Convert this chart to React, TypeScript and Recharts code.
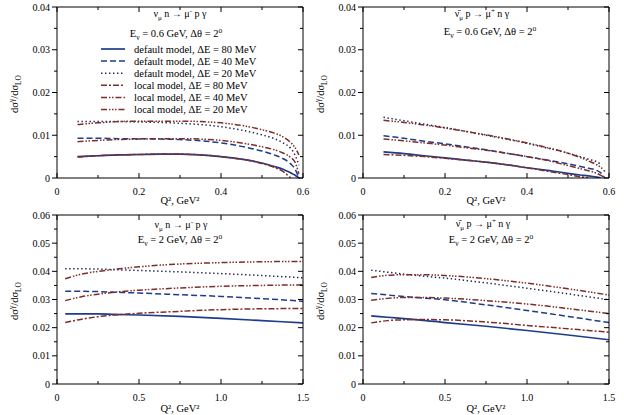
import React from "react";
import { LineChart, Line, XAxis, YAxis } from "recharts";

const FONT = "'Liberation Serif', 'DejaVu Serif', 'Times New Roman', serif";
const BLUE = "#1f3c8c";
const BROWN = "#7d2e27";
const DOTS = "#1c2550";

// Q^2 grids (GeV^2)
const qLow = [0.05, 0.1, 0.15, 0.2, 0.25, 0.3, 0.35, 0.4, 0.45, 0.5, 0.53, 0.55, 0.57, 0.58, 0.59];
const qHigh = [0.05, 0.15, 0.25, 0.35, 0.5, 0.75, 1.0, 1.25, 1.5];

// nu_mu n -> mu- p gamma, E = 0.6 GeV
const nuLowDef80 = [0.005, 0.0052, 0.0054, 0.0055, 0.0056, 0.0056, 0.0054, 0.005, 0.0044, 0.0035, 0.0027, 0.0021, 0.0012, 0.0007, 0];
const nuLowLoc80 = [0.0049, 0.0052, 0.0054, 0.0055, 0.0056, 0.0056, 0.0054, 0.005, 0.0044, 0.0034, 0.0025, 0.0016, 0, null, null];
const nuLowDef40 = [0.0093, 0.0093, 0.0092, 0.0092, 0.0091, 0.009, 0.0087, 0.0082, 0.0074, 0.0063, 0.0054, 0.0046, 0.0033, 0.0022, 0];
const nuLowLoc40 = [0.0085, 0.0088, 0.009, 0.0091, 0.0092, 0.0092, 0.0091, 0.0088, 0.0082, 0.0073, 0.0066, 0.0059, 0.0048, 0.0038, 0.001];
const nuLowDef20 = [0.0132, 0.0132, 0.0132, 0.0131, 0.013, 0.0128, 0.0125, 0.012, 0.0112, 0.0101, 0.0092, 0.0083, 0.0069, 0.0055, 0.003];
const nuLowLoc20 = [0.0125, 0.0129, 0.0132, 0.0133, 0.0133, 0.0133, 0.0132, 0.0129, 0.0123, 0.0113, 0.0105, 0.0097, 0.0083, 0.0072, 0.0054];

// anti-nu_mu p -> mu+ n gamma, E = 0.6 GeV
const anuLowDef80 = [0.0061, 0.0057, 0.0052, 0.0047, 0.0042, 0.0037, 0.0031, 0.0024, 0.0018, 0.0011, 0.0007, 0.0005, 0.0002, 0, null];
const anuLowLoc80 = [0.0055, 0.0053, 0.005, 0.0046, 0.0042, 0.0037, 0.0031, 0.0024, 0.0016, 0.0008, 0.0003, 0, null, null, null];
const anuLowDef40 = [0.0099, 0.0093, 0.0086, 0.008, 0.0073, 0.0066, 0.0058, 0.005, 0.0042, 0.0033, 0.0027, 0.0023, 0.0018, 0.0012, 0];
const anuLowLoc40 = [0.0091, 0.0087, 0.0082, 0.0077, 0.0071, 0.0065, 0.0058, 0.005, 0.0041, 0.0029, 0.0022, 0.0017, 0.0011, 0.0006, 0];
const anuLowDef20 = [0.0142, 0.0134, 0.0126, 0.0118, 0.0109, 0.01, 0.0091, 0.0081, 0.007, 0.0058, 0.005, 0.0044, 0.0038, 0.0032, null];
const anuLowLoc20 = [0.0135, 0.013, 0.0124, 0.0117, 0.0109, 0.0101, 0.0092, 0.0082, 0.0071, 0.0058, 0.0048, 0.004, 0.0031, 0.0025, 0.0015];

// nu_mu n -> mu- p gamma, E = 2 GeV
const nuHighDef80 = [0.0249, 0.0249, 0.0249, 0.0247, 0.0245, 0.024, 0.0233, 0.0225, 0.0217];
const nuHighLoc80 = [0.0218, 0.023, 0.0239, 0.0245, 0.0251, 0.0258, 0.0264, 0.0267, 0.0268];
const nuHighDef40 = [0.0329, 0.0329, 0.0328, 0.0326, 0.0323, 0.0317, 0.0311, 0.0303, 0.0294];
const nuHighLoc40 = [0.0296, 0.031, 0.0319, 0.0326, 0.0333, 0.0341, 0.0347, 0.035, 0.0352];
const nuHighDef20 = [0.0409, 0.0409, 0.0408, 0.0406, 0.0403, 0.0398, 0.0392, 0.0385, 0.0377];
const nuHighLoc20 = [0.0374, 0.039, 0.04, 0.0407, 0.0416, 0.0426, 0.0431, 0.0434, 0.0435];

// anti-nu_mu p -> mu+ n gamma, E = 2 GeV
const anuHighDef80 = [0.0242, 0.0237, 0.0232, 0.0227, 0.0218, 0.0205, 0.019, 0.0174, 0.0157];
const anuHighLoc80 = [0.0217, 0.0225, 0.0228, 0.0229, 0.0228, 0.022, 0.0208, 0.0196, 0.0184];
const anuHighDef40 = [0.0321, 0.0316, 0.0311, 0.0306, 0.0299, 0.0281, 0.0261, 0.024, 0.0218];
const anuHighLoc40 = [0.0297, 0.0304, 0.0307, 0.0307, 0.0305, 0.0296, 0.0284, 0.0268, 0.025];
const anuHighDef20 = [0.0404, 0.0397, 0.039, 0.0384, 0.0376, 0.0359, 0.034, 0.032, 0.0299];
const anuHighLoc20 = [0.0378, 0.0386, 0.0388, 0.0388, 0.0385, 0.0374, 0.0358, 0.0338, 0.0316];

const yMajorLow = [0, 0.01, 0.02, 0.03, 0.04];
const yMinorLow = [0.005, 0.015, 0.025, 0.035];
const yMajorHigh = [0, 0.01, 0.02, 0.03, 0.04, 0.05, 0.06];
const yMinorHigh = [0.005, 0.015, 0.025, 0.035, 0.045, 0.055];
const xMajorLow = [0, 0.2, 0.4, 0.6];
const xMinorLow = [0.1, 0.3, 0.5];
const xMajorHigh = [0, 0.5, 1.0, 1.5];
const xMinorHigh = [0.25, 0.75, 1.25];

const series = [
  { key: "def80", name: "default model, ΔE = 80 MeV", color: BLUE, dash: undefined, width: 1.7 },
  { key: "def40", name: "default model, ΔE = 40 MeV", color: BLUE, dash: "6 3", width: 1.5 },
  { key: "def20", name: "default model, ΔE = 20 MeV", color: DOTS, dash: "1.4 2.6", width: 1.5 },
  { key: "loc80", name: "local model, ΔE = 80 MeV", color: BROWN, dash: "6 2 2 2", width: 1.5 },
  { key: "loc40", name: "local model, ΔE = 40 MeV", color: BROWN, dash: "6 2 1.5 1.5 1.5 2", width: 1.5 },
  { key: "loc20", name: "local model, ΔE = 20 MeV", color: BROWN, dash: "6 2 1.5 1.5 1.5 1.5 1.5 2", width: 1.5 },
];

function buildRows(q: number[], cols: Record<string, (number | null)[]>) {
  return q.map((x, i) => {
    const row: any = { q: x };
    Object.keys(cols).forEach((k) => (row[k] = cols[k][i]));
    return row;
  });
}

const nuLowData = buildRows(qLow, { def80: nuLowDef80, loc80: nuLowLoc80, def40: nuLowDef40, loc40: nuLowLoc40, def20: nuLowDef20, loc20: nuLowLoc20 });
const anuLowData = buildRows(qLow, { def80: anuLowDef80, loc80: anuLowLoc80, def40: anuLowDef40, loc40: anuLowLoc40, def20: anuLowDef20, loc20: anuLowLoc20 });
const nuHighData = buildRows(qHigh, { def80: nuHighDef80, loc80: nuHighLoc80, def40: nuHighDef40, loc40: nuHighLoc40, def20: nuHighDef20, loc20: nuHighLoc20 });
const anuHighData = buildRows(qHigh, { def80: anuHighDef80, loc80: anuHighLoc80, def40: anuHighDef40, loc40: anuHighLoc40, def20: anuHighDef20, loc20: anuHighLoc20 });

const isMajor = (majors: number[], v: number) => majors.some((m) => Math.abs(m - v) < 1e-9);
const fmtY = (v: number) => (v === 0 ? "0" : v.toFixed(2));
const fmtX = (v: number) => (v === 0 ? "0" : v.toFixed(1));
const txt = { fontFamily: FONT, fill: "#000" };

// one axis carries both major and minor ticks; the tick draws its own line
const makeTick = (side: string, majors: number[], fmt?: (v: number) => string) => (props: any) => {
  const { x, y, payload } = props;
  const v = payload.value;
  const major = isMajor(majors, v);
  const len = major ? 5 : 3;
  if (side === "bottom") {
    return (
      <g>
        <line x1={x} y1={y} x2={x} y2={y - len} stroke="#000" />
        {major && fmt && (
          <text x={x} y={y + 16.5} textAnchor="middle" fontSize={10} style={txt}>
            {fmt(v)}
          </text>
        )}
      </g>
    );
  }
  if (side === "left") {
    return (
      <g>
        <line x1={x} y1={y} x2={x - len} y2={y} stroke="#000" />
        {major && fmt && (
          <text x={x - 7} y={y + 3.5} textAnchor="end" fontSize={10} style={txt}>
            {fmt(v)}
          </text>
        )}
      </g>
    );
  }
  if (side === "top") {
    return <line x1={x} y1={y} x2={x} y2={y + len} stroke="#000" />;
  }
  return <line x1={x} y1={y} x2={x - len} y2={y} stroke="#000" />;
};

type PanelProps = {
  left: number;
  top: number;
  height: number;
  bottomH: number;
  data: any[];
  xMax: number;
  xMajor: number[];
  xMinor: number[];
  yMax: number;
  yMajor: number[];
  yMinor: number[];
};

function Panel({ left, top, height, bottomH, data, xMax, xMajor, xMinor, yMax, yMajor, yMinor }: PanelProps) {
  const xTicks = [...xMajor, ...xMinor].sort((a, b) => a - b);
  const yTicks = [...yMajor, ...yMinor].sort((a, b) => a - b);
  const axisLine = { stroke: "#000", strokeWidth: 1 };
  return (
    <div style={{ position: "absolute", left, top }}>
      <LineChart width={312} height={height} data={data} margin={{ top: 6, right: 8, bottom: 0, left: 0 }}>
        <XAxis xAxisId="b" dataKey="q" type="number" domain={[0, xMax]} ticks={xTicks} interval={0}
          tickLine={false} tickSize={0} tickMargin={0} height={bottomH} axisLine={axisLine}
          tick={makeTick("bottom", xMajor, fmtX)} allowDataOverflow />
        <XAxis xAxisId="t" dataKey="q" orientation="top" type="number" domain={[0, xMax]} ticks={xTicks} interval={0}
          tickLine={false} tickSize={0} tickMargin={0} height={1} axisLine={axisLine}
          tick={makeTick("top", xMajor)} allowDataOverflow />
        <YAxis yAxisId="l" type="number" domain={[0, yMax]} ticks={yTicks} interval={0}
          tickLine={false} tickSize={0} tickMargin={0} width={57} axisLine={axisLine}
          tick={makeTick("left", yMajor, fmtY)} allowDataOverflow />
        <YAxis yAxisId="r" orientation="right" type="number" domain={[0, yMax]} ticks={yTicks} interval={0}
          tickLine={false} tickSize={0} tickMargin={0} width={1} axisLine={axisLine}
          tick={makeTick("right", yMajor)} allowDataOverflow />
        {series.map((s) => (
          <Line key={s.key} xAxisId="b" yAxisId="l" type="monotone" dataKey={s.key} name={s.name}
            stroke={s.color} strokeWidth={s.width} strokeDasharray={s.dash} dot={false}
            activeDot={false} isAnimationActive={false} />
        ))}
      </LineChart>
    </div>
  );
}

function LegendBox({ x, y }: { x: number; y: number }) {
  return (
    <g transform={`translate(${x},${y})`}>
      {series.map((s, i) => {
        const cy = i * 12.1;
        return (
          <g key={s.key}>
            <line x1={0} y1={cy} x2={24} y2={cy} stroke={s.color} strokeWidth={s.width} strokeDasharray={s.dash} />
            <text x={33} y={cy + 3.6} fontSize={10.5} style={txt}>
              {s.name}
            </text>
          </g>
        );
      })}
    </g>
  );
}

function YLabel({ x, y }: { x: number; y: number }) {
  return (
    <text transform={`translate(${x},${y}) rotate(-90)`} textAnchor="middle" fontSize={10.5} style={txt}>
      dσ<tspan dy={-4} fontSize={7.5}>γ</tspan>
      <tspan dy={4}>/dσ</tspan>
      <tspan dy={3} fontSize={7.5}>LO</tspan>
    </text>
  );
}

function XLabel({ x, y }: { x: number; y: number }) {
  return (
    <text x={x} y={y} textAnchor="middle" fontSize={10.5} style={txt}>
      Q², GeV²
    </text>
  );
}

function NuTitle({ x, y }: { x: number; y: number }) {
  return (
    <text x={x} y={y} textAnchor="middle" fontSize={10} style={txt}>
      ν<tspan dy={3} fontSize={7}>μ</tspan>
      <tspan dy={-3}> n → μ</tspan>
      <tspan dy={-4} fontSize={7}>-</tspan>
      <tspan dy={4}> p γ</tspan>
    </text>
  );
}

function AntiNuTitle({ x, y }: { x: number; y: number }) {
  return (
    <text x={x} y={y} textAnchor="middle" fontSize={10} style={txt}>
      ν̄<tspan dy={3} fontSize={7}>μ</tspan>
      <tspan dy={-3}> p → μ</tspan>
      <tspan dy={-4} fontSize={7}>+</tspan>
      <tspan dy={4}> n γ</tspan>
    </text>
  );
}

function EnergyLine({ x, y, e }: { x: number; y: number; e: string }) {
  return (
    <text x={x} y={y} textAnchor="middle" fontSize={10.5} style={txt}>
      E<tspan dy={3} fontSize={7.5}>ν</tspan>
      <tspan dy={-3}> = {e} GeV, Δθ = 2</tspan>
      <tspan dy={-4} fontSize={7.5}>o</tspan>
    </text>
  );
}

export default function App() {
  return (
    <div style={{ position: "absolute", left: 0, top: 0, width: 624, height: 415, background: "#fff", overflow: "hidden", fontFamily: FONT }}>
      <Panel left={0} top={0} height={207} bottomH={29} data={nuLowData} xMax={0.6} xMajor={xMajorLow} xMinor={xMinorLow}
        yMax={0.04} yMajor={yMajorLow} yMinor={yMinorLow} />
      <Panel left={306} top={0} height={207} bottomH={29} data={anuLowData} xMax={0.6} xMajor={xMajorLow} xMinor={xMinorLow}
        yMax={0.04} yMajor={yMajorLow} yMinor={yMinorLow} />
      <Panel left={0} top={208} height={207} bottomH={31} data={nuHighData} xMax={1.5} xMajor={xMajorHigh} xMinor={xMinorHigh}
        yMax={0.06} yMajor={yMajorHigh} yMinor={yMinorHigh} />
      <Panel left={306} top={208} height={207} bottomH={31} data={anuHighData} xMax={1.5} xMajor={xMajorHigh} xMinor={xMinorHigh}
        yMax={0.06} yMajor={yMajorHigh} yMinor={yMinorHigh} />
      <svg width={624} height={415} style={{ position: "absolute", left: 0, top: 0, pointerEvents: "none" }}>
        <LegendBox x={101} y={49} />
        <YLabel x={18} y={94} />
        <YLabel x={324} y={94} />
        <YLabel x={18} y={301} />
        <YLabel x={324} y={301} />
        <XLabel x={180} y={204} />
        <XLabel x={486} y={204} />
        <XLabel x={180} y={412} />
        <XLabel x={486} y={412} />
        <NuTitle x={180} y={17} />
        <EnergyLine x={176} y={37} e="0.6" />
        <AntiNuTitle x={482} y={17} />
        <EnergyLine x={490} y={35} e="0.6" />
        <NuTitle x={181} y={228} />
        <EnergyLine x={180} y={243} e="2" />
        <AntiNuTitle x={483} y={227} />
        <EnergyLine x={491} y={243} e="2" />
      </svg>
    </div>
  );
}
